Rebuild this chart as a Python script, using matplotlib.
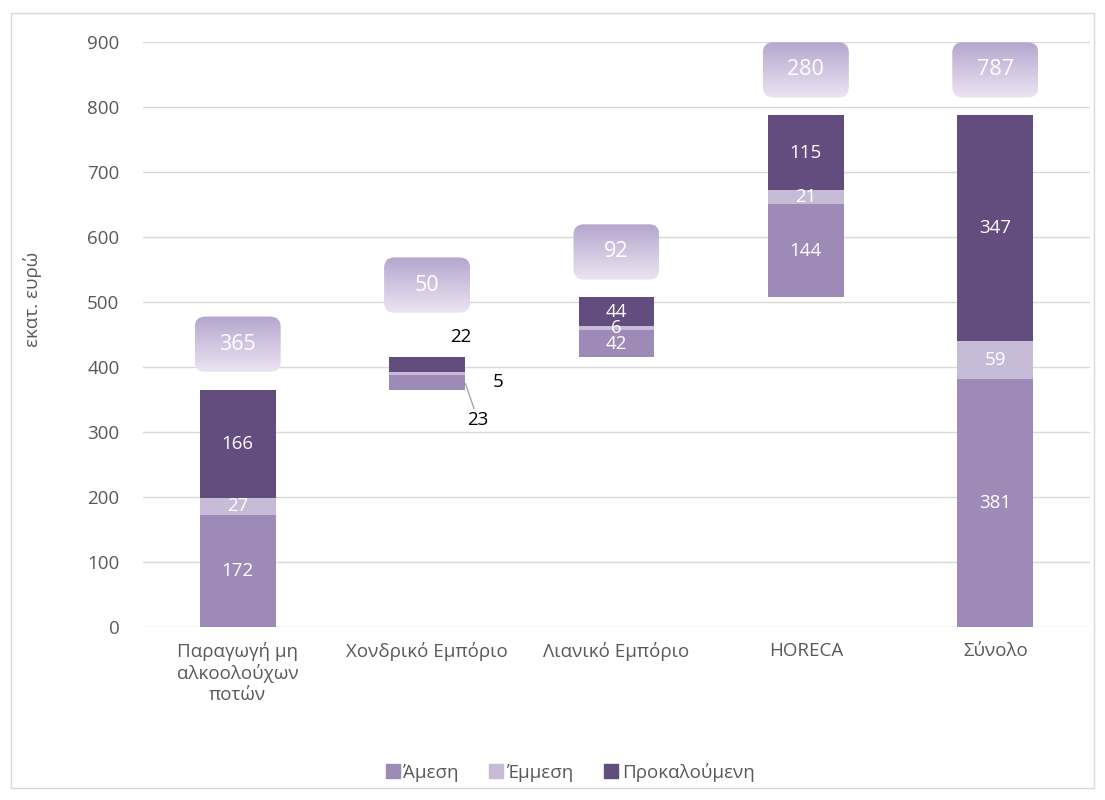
import numpy as np
import matplotlib.pyplot as plt
from matplotlib.patches import FancyBboxPatch, Rectangle, Patch
from matplotlib.colors import LinearSegmentedColormap

plt.rcParams['font.family'] = ['Open Sans', 'DejaVu Sans']

# data
categories = ['Παραγωγή μη\nαλκοολούχων\nποτών', 'Χονδρικό Εμπόριο',
              'Λιανικό Εμπόριο', 'HORECA', 'Σύνολο']
direct = [172, 23, 42, 144, 381]
indirect = [27, 5, 6, 21, 59]
induced = [166, 22, 44, 115, 347]
totals = [365, 50, 92, 280, 787]
series_names = ['Άμεση', 'Έμμεση', 'Προκαλούμενη']
colors = ['#9d8ab6', '#c6bcd8', '#634d7f']

# waterfall: every sector starts where the previous one ended, the total starts at 0
bases = [0] + list(np.cumsum(totals[:3])) + [0]

fig = plt.figure(figsize=(11.05, 8), dpi=100)
ax = fig.add_axes([0.1294, 0.2163, 0.8570, 0.7312])

fs = 13.5
x = np.arange(len(categories))
width = 0.4
bottom = np.array(bases, dtype=float)
for vals, name, col in zip([direct, indirect, induced], series_names, colors):
    ax.bar(x, vals, width, bottom=bottom, color=col, label=name, zorder=2)
    for i, v in enumerate(vals):
        if i == 1:
            continue
        ax.text(x[i], bottom[i] + v / 2, str(v), ha='center', va='center',
                color='white', fontsize=fs, zorder=4)
    bottom = bottom + np.array(vals)

# small bar: labels outside
b = bases[1]
ax.annotate(str(induced[1]), xy=(x[1], b + direct[1] + indirect[1] + induced[1] / 2),
            xytext=(24.5, 19.5), textcoords='offset points', ha='center', va='center',
            fontsize=fs, color='black')
ax.annotate(str(indirect[1]), xy=(x[1], b + direct[1] + indirect[1] / 2),
            xytext=(51, -6.5), textcoords='offset points', ha='center', va='center',
            fontsize=fs, color='black')
ax.annotate(str(direct[1]), xy=(x[1] + width / 2, b + direct[1] / 2),
            xytext=(9.5, -27.5), textcoords='offset points', ha='center', va='center',
            fontsize=fs, color='black',
            arrowprops=dict(arrowstyle='-', color='#a6a6a6', lw=1, shrinkA=0, shrinkB=1))

# gradient total boxes
cmap = LinearSegmentedColormap.from_list('grad', ['#ebe5f2', '#b6a6cf'])
lift = [70, 111, 70, 70, 70]
bw, bh = 0.454, 85
grad = np.linspace(0, 1, 100).reshape(-1, 1)
for i, t in enumerate(totals):
    top = bases[i] + t
    yc = top + lift[i]
    x0, y0 = x[i] - bw / 2, yc - bh / 2
    box = FancyBboxPatch((x0, y0), bw, bh,
                         boxstyle='round,pad=0,rounding_size=0.055',
                         mutation_aspect=291, transform=ax.transData,
                         facecolor='none', edgecolor='none', zorder=3)
    ax.add_patch(box)
    im = ax.imshow(grad, extent=(x0, x0 + bw, y0, y0 + bh), origin='lower',
                   cmap=cmap, aspect='auto', zorder=3)
    im.set_clip_path(box)
    ax.text(x[i], yc, str(t), ha='center', va='center', color='white',
            fontsize=15.5, zorder=4)

ax.set_xlim(-0.5, len(categories) - 0.5)
ax.set_ylim(0, 900)
ax.set_yticks(range(0, 901, 100))
ax.set_xticks(x)
ax.set_xticklabels(categories, linespacing=1.2)
ax.grid(axis='y', color='#d9d9d9', lw=1, zorder=0)
ax.set_axisbelow(True)
for s in ax.spines.values():
    s.set_visible(False)
ax.tick_params(axis='both', length=0, labelsize=fs, colors='#595959')
ax.tick_params(axis='y', pad=17)
ax.tick_params(axis='x', pad=11)
ax.set_ylabel('εκατ. ευρώ', fontsize=fs, color='#595959')
ax.yaxis.set_label_coords(-0.107, 0.56)

handles = [Patch(color=c) for c in colors]
fig.legend(handles, series_names, loc='center', bbox_to_anchor=(570 / 1105, 0.035),
           ncol=3, frameon=False, fontsize=fs, handlelength=0.75, handleheight=0.75,
           handletextpad=0.2, columnspacing=1.6, labelcolor='#595959')

fig.patches.append(Rectangle((0.010, 0.015), 0.980, 0.969, transform=fig.transFigure,
                             fill=False, edgecolor='#d9d9d9', lw=1))

fig.savefig('out.png', dpi=100)
